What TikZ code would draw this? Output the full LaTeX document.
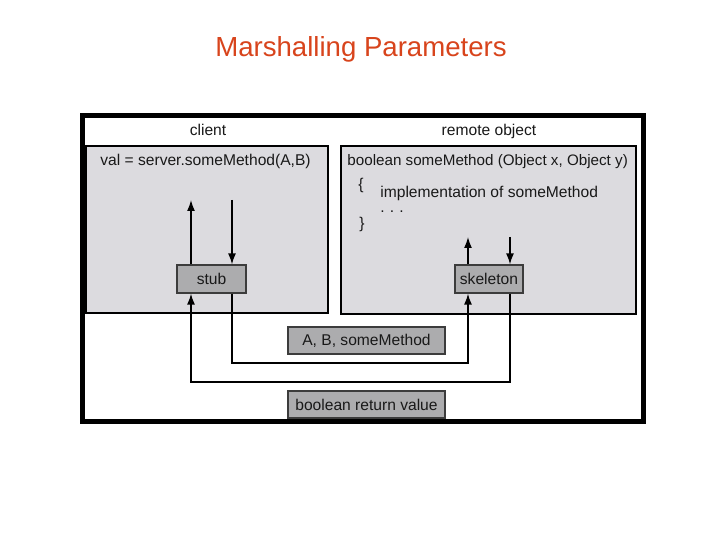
\documentclass[tikz,border=0pt]{standalone}
\usepackage{fontspec}
\setsansfont{Liberation Sans}
\usepackage{tikz}
\usetikzlibrary{arrows.meta}

\definecolor{titlered}{RGB}{216,68,28}
\definecolor{panelgray}{RGB}{220,219,223}
\definecolor{boxgray}{RGB}{172,172,174}
\definecolor{edgegray}{RGB}{60,60,60}

\begin{document}
\begin{tikzpicture}[
	x=0.5pt,
	y=-0.5pt,
	every node/.style={font=\sffamily\fontsize{7.8}{9}\selectfont, text=black!90},
	heading/.style={
		font=\sffamily\fontsize{13.8}{16}\selectfont,
		text=titlered,
		anchor=base
		},
	panel/.style={
		fill=panelgray,
		draw=black,
		line width=0.75pt
		},
	box/.style={
		rectangle,
		draw=edgegray,
		line width=0.6pt,
		fill=boxgray,
		inner sep=0pt,
		minimum height=14pt,
		text centered
		},
	wide/.style={
		minimum width=78.5pt,
		minimum height=13.5pt
		},
	code/.style={
		anchor=base west,
		inner sep=0pt
		},
	flow/.style={
		draw=black,
		line width=0.75pt,
		-{Latex[length=5.5pt,width=4pt]}
		}
]
\fill[white] (0,0) rectangle (720,540);
\useasboundingbox (0,0) rectangle (720,540);

% Title
\node [heading] (title) at (361,57) {Marshalling Parameters};

% Panels
\path [panel] (86,146) rectangle (328,313);
\path [panel] (341,146) rectangle (636,314);
\node [anchor=base] (client) at (208,136) {client};
\node [anchor=base] (remote) at (489,136) {remote object};

% Code
\node [code] (call) at (100,166) {val = server.someMethod(A,B)};
\node [code, font=\sffamily\fontsize{7.6}{9}\selectfont] (signature) at (347,166) {boolean someMethod (Object x, Object y)};
\node [code] (open) at (358,190) {\{};
\node [code] (body) at (380,198) {implementation of someMethod};
\node [code] (dots) at (380,213) {.\,\,.\,\,.};
\node [code] (close) at (359,229) {\}};

% Boxes
\node [box, minimum width=34.5pt] (stub) at (211.5,279) {stub};
\node [box, minimum width=34pt] (skeleton) at (489,279) {skeleton};
\node [box, wide] (params) at (366.5,340.5) {A, B, someMethod};
\node [box, wide] (result) at (366.5,404.5) {boolean return value};

% Arrows
\coordinate (stubup) at (191,200);
\coordinate (stubdown) at (232,200);
\coordinate (skelup) at (468,237);
\coordinate (skeldown) at (510,237);
\coordinate (callrow) at (0,363);
\coordinate (returnrow) at (0,382);

\draw [flow] (stub.north -| stubup) -- (stubup);
\draw [flow] (stubdown) -- (stubdown |- stub.north);
\draw [flow] (skeleton.north -| skelup) -- (skelup);
\draw [flow] (skeldown) -- (skeldown |- skeleton.north);
\draw [flow] (stubdown |- stub.south) -- (stubdown |- callrow) -| (skelup |- skeleton.south);
\draw [flow] (skeldown |- skeleton.south) -- (skeldown |- returnrow) -| (stubup |- stub.south);

% Frame
\draw [line width=2.5pt] (82.5,115.5) rectangle (644,421.5);

\end{tikzpicture}
\end{document}
